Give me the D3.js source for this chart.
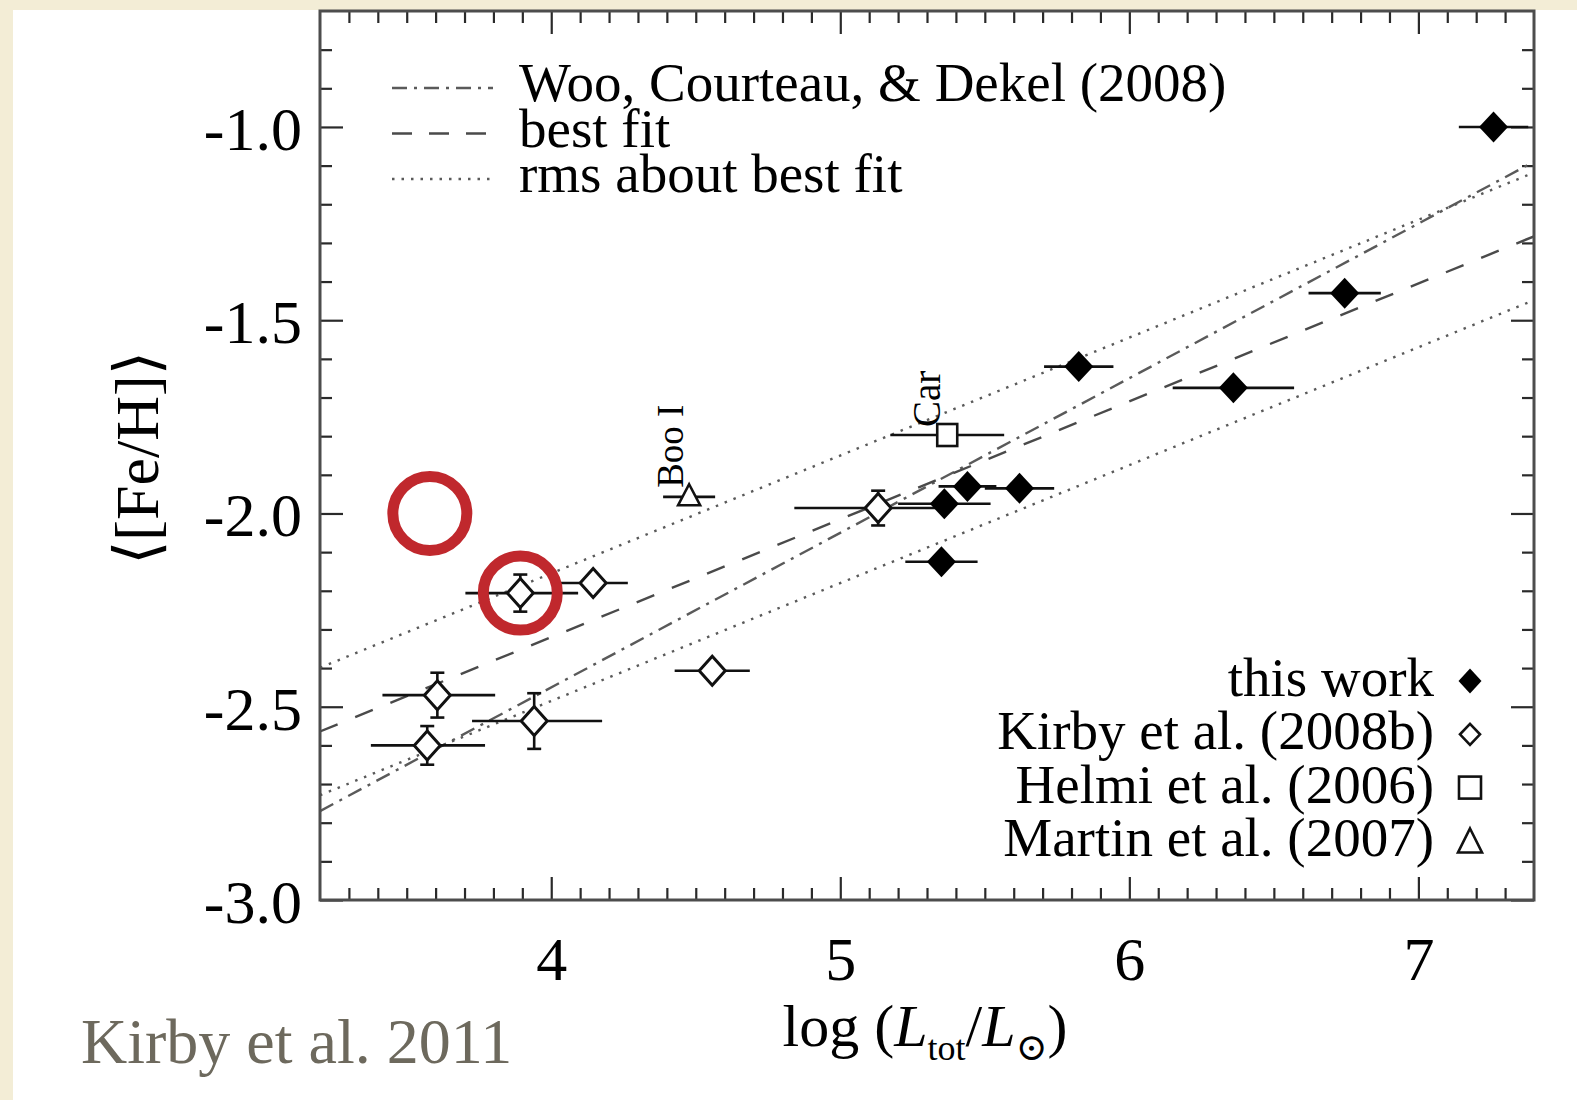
<!DOCTYPE html>
<html><head><meta charset="utf-8">
<script src="https://cdn.jsdelivr.net/npm/d3@7"></script>
<style>
html,body{margin:0;padding:0;background:#f3edd6;}
svg{display:block;}
</style></head><body>
<svg id="chart" width="1577" height="1100"></svg>
<script>
// Mean metallicity vs. total luminosity of dwarf galaxies

// "this work" (filled diamonds)
const thisWorkX   = [7.26, 6.745, 5.825, 6.36, 5.36, 5.44, 5.62, 5.35];
const thisWorkY   = [-1.00, -1.43, -1.62, -1.675, -1.975, -1.93, -1.935, -2.125];
const thisWorkXErr = [0.12, 0.125, 0.12, 0.21, 0.16, 0.10, 0.12, 0.125];

// Kirby et al. (2008b) (open diamonds)
const kirbyX     = [3.893, 4.145, 4.557, 3.606, 3.571, 3.941, 5.131];
const kirbyY     = [-2.206, -2.18, -2.407, -2.47, -2.60, -2.537, -1.986];
const kirbyXErrLo = [0.19, 0.12, 0.13, 0.19, 0.195, 0.215, 0.29];
const kirbyXErrHi = [0.20, 0.12, 0.13, 0.20, 0.20, 0.235, 0.22];
const kirbyYErr  = [0.048, 0, 0, 0.058, 0.05, 0.072, 0.045];

// Helmi et al. (2006) (open square) — Carina
const helmiX = [5.37], helmiY = [-1.797], helmiXErr = [0.197], helmiNames = ["Car"];
// Martin et al. (2007) (open triangle) — Boötes I
const martinX = [4.477], martinY = [-1.957], martinXErr = [0.09], martinNames = ["Boo I"];

// Linear relations: [Fe/H] = intercept + slope * (log L - 5)
const fitIntercept = -2.015, fitSlope = 0.305, fitRms = 0.165;
const wooIntercept = -2.05, wooSlope = 0.40;

// highlighted positions (red rings)
const ringX = [3.58, 3.893];
const ringY = [-2.0, -2.206];

// axes
const xTicks = [4, 5, 6, 7];
const xTickLabels = ["4", "5", "6", "7"];
const yTicks = [-3.0, -2.5, -2.0, -1.5, -1.0];
const yTickLabels = ["-3.0", "-2.5", "-2.0", "-1.5", "-1.0"];

const lineLegend = ["Woo, Courteau, & Dekel (2008)", "best fit", "rms about best fit"];
const symbolLegend = ["this work", "Kirby et al. (2008b)", "Helmi et al. (2006)", "Martin et al. (2007)"];

const SERIF = "'Liberation Serif','Times New Roman','DejaVu Serif',serif";
const svg = d3.select("#chart");

// white sheet
svg.append("rect").attr("x", 13).attr("y", 10).attr("width", 1577 - 13).attr("height", 1100 - 10).attr("fill", "#ffffff");

const L = 320, R = 1534, T = 11, B = 900;
const x = d3.scaleLinear().domain([3.2, 7.4]).range([L, R]);
const y = d3.scaleLinear().domain([-3.0, -0.7]).range([B, T]);

svg.append("defs").append("clipPath").attr("id", "plotClip")
  .append("rect").attr("x", L).attr("y", T).attr("width", R - L).attr("height", B - T);

const minorX = d3.range(3.3, 7.35, 0.1).map(v => +v.toFixed(1)).filter(v => !xTicks.includes(v));
const minorY = d3.range(-2.9, -0.75, 0.1).map(v => +v.toFixed(1)).filter(v => !yTicks.some(t => Math.abs(t - v) < 1e-6));

function styleAxis(g) {
  g.select(".domain").remove();
  g.selectAll(".tick line").attr("stroke", "#2a2a2a").attr("stroke-width", 2.2);
}

// major + minor ticks on all four sides (pointing inward)
svg.append("g").attr("transform", `translate(${L},0)`)
  .call(d3.axisLeft(y).tickValues(yTicks).tickSize(-23).tickPadding(18)
    .tickFormat((d, i) => yTickLabels[i]))
  .call(styleAxis)
  .call(g => g.selectAll("text").attr("font-family", SERIF).attr("font-size", 62)
    .attr("fill", "#000").attr("dy", "0.36em"));
svg.append("g").attr("transform", `translate(${L},0)`)
  .call(d3.axisLeft(y).tickValues(minorY).tickSize(-12).tickFormat(""))
  .call(styleAxis);
svg.append("g").attr("transform", `translate(${R},0)`)
  .call(d3.axisRight(y).tickValues(yTicks).tickSize(-23).tickFormat(""))
  .call(styleAxis);
svg.append("g").attr("transform", `translate(${R},0)`)
  .call(d3.axisRight(y).tickValues(minorY).tickSize(-12).tickFormat(""))
  .call(styleAxis);
svg.append("g").attr("transform", `translate(0,${B})`)
  .call(d3.axisBottom(x).tickValues(xTicks).tickSize(-23).tickPadding(36)
    .tickFormat((d, i) => xTickLabels[i]))
  .call(styleAxis)
  .call(g => g.selectAll("text").attr("font-family", SERIF).attr("font-size", 62)
    .attr("fill", "#000").attr("dy", "0.71em"));
svg.append("g").attr("transform", `translate(0,${B})`)
  .call(d3.axisBottom(x).tickValues(minorX).tickSize(-12).tickFormat(""))
  .call(styleAxis);
svg.append("g").attr("transform", `translate(0,${T})`)
  .call(d3.axisTop(x).tickValues(xTicks).tickSize(-23).tickFormat(""))
  .call(styleAxis);
svg.append("g").attr("transform", `translate(0,${T})`)
  .call(d3.axisTop(x).tickValues(minorX).tickSize(-12).tickFormat(""))
  .call(styleAxis);

// relation lines
const plot = svg.append("g").attr("clip-path", "url(#plotClip)");
const line = d3.line().x(d => x(d[0])).y(d => y(d[1]));
const ends = x.domain();
function relation(a, b, off) { return ends.map(v => [v, a + b * (v - 5) + off]); }

const lineStyles = [
  { dash: "15,7,3,7", color: "#5a5a5a", width: 2.4 },   // Woo et al.
  { dash: "19,19", color: "#4a4a4a", width: 2.4 },      // best fit
  { dash: "2.5,7", color: "#5a5a5a", width: 2.4 }       // rms
];
plot.append("path").attr("d", line(relation(wooIntercept, wooSlope, 0)))
  .attr("fill", "none").attr("stroke", lineStyles[0].color).attr("stroke-width", lineStyles[0].width)
  .attr("stroke-dasharray", lineStyles[0].dash);
plot.append("path").attr("d", line(relation(fitIntercept, fitSlope, 0)))
  .attr("fill", "none").attr("stroke", lineStyles[1].color).attr("stroke-width", lineStyles[1].width)
  .attr("stroke-dasharray", lineStyles[1].dash);
[fitRms, -fitRms].forEach(o => {
  plot.append("path").attr("d", line(relation(fitIntercept, fitSlope, o)))
    .attr("fill", "none").attr("stroke", lineStyles[2].color).attr("stroke-width", lineStyles[2].width)
    .attr("stroke-dasharray", lineStyles[2].dash);
});

// error bars
const eb = plot.append("g").attr("stroke", "#111").attr("stroke-width", 2.6).attr("fill", "none");
function hbar(xv, yv, lo, hi) {
  eb.append("line").attr("x1", x(xv - lo)).attr("x2", x(xv + hi)).attr("y1", y(yv)).attr("y2", y(yv));
}
function vbar(xv, yv, e) {
  if (!e) return;
  const cx = x(xv);
  eb.append("line").attr("x1", cx).attr("x2", cx).attr("y1", y(yv - e)).attr("y2", y(yv + e));
  [yv - e, yv + e].forEach(v => eb.append("line").attr("x1", cx - 7).attr("x2", cx + 7).attr("y1", y(v)).attr("y2", y(v)));
}
thisWorkX.forEach((v, i) => hbar(v, thisWorkY[i], thisWorkXErr[i], thisWorkXErr[i]));
kirbyX.forEach((v, i) => { hbar(v, kirbyY[i], kirbyXErrLo[i], kirbyXErrHi[i]); vbar(v, kirbyY[i], kirbyYErr[i]); });
helmiX.forEach((v, i) => hbar(v, helmiY[i], helmiXErr[i], helmiXErr[i]));
martinX.forEach((v, i) => hbar(v, martinY[i], martinXErr[i], martinXErr[i]));

// marker shapes
function diamond(cx, cy, w, h) {
  const p = d3.path();
  p.moveTo(cx, cy - h); p.lineTo(cx + w, cy); p.lineTo(cx, cy + h); p.lineTo(cx - w, cy); p.closePath();
  return p.toString();
}
function triangle(cx, cy, w, h) {
  const p = d3.path();
  p.moveTo(cx, cy - h * 0.6); p.lineTo(cx + w, cy + h * 0.4); p.lineTo(cx - w, cy + h * 0.4); p.closePath();
  return p.toString();
}
const marks = svg.append("g");
thisWorkX.forEach((v, i) => marks.append("path").attr("d", diamond(x(v), y(thisWorkY[i]), 14.5, 15.5)).attr("fill", "#000"));
kirbyX.forEach((v, i) => marks.append("path").attr("d", diamond(x(v), y(kirbyY[i]), 13, 14.5))
  .attr("fill", "#fff").attr("stroke", "#111").attr("stroke-width", 3));
helmiX.forEach((v, i) => marks.append("rect").attr("x", x(v) - 10).attr("y", y(helmiY[i]) - 11).attr("width", 20).attr("height", 22)
  .attr("fill", "#fff").attr("stroke", "#111").attr("stroke-width", 2.6));
martinX.forEach((v, i) => marks.append("path").attr("d", triangle(x(v), y(martinY[i]), 11, 21))
  .attr("fill", "#fff").attr("stroke", "#111").attr("stroke-width", 2.6));

// galaxy names, rotated
function nameLabel(xv, yv, txt, dx, dy, fs) {
  svg.append("text").attr("transform", `translate(${x(xv) + dx},${y(yv) + dy}) rotate(-90)`)
    .attr("font-family", SERIF).attr("font-size", fs).attr("fill", "#000").text(txt);
}
martinX.forEach((v, i) => nameLabel(v, martinY[i], martinNames[i], -6, -9, 37));
helmiX.forEach((v, i) => nameLabel(v, helmiY[i], helmiNames[i], -7, -8, 39));

// frame
svg.append("rect").attr("x", L).attr("y", T).attr("width", R - L).attr("height", B - T)
  .attr("fill", "none").attr("stroke", "#4d4d4d").attr("stroke-width", 3);

// line legend (top left)
const lg = svg.append("g").attr("font-family", SERIF).attr("font-size", 55).attr("fill", "#000");
lineLegend.forEach((t, i) => {
  const yy = 101 + i * 45.5;
  lg.append("line").attr("x1", 392).attr("x2", 493).attr("y1", yy - 13).attr("y2", yy - 13)
    .attr("stroke", lineStyles[i].color).attr("stroke-width", lineStyles[i].width)
    .attr("stroke-dasharray", i === 1 ? "20,17" : lineStyles[i].dash);
  lg.append("text").attr("x", 519).attr("y", yy).text(t);
});

// symbol legend (bottom right)
const sl = svg.append("g").attr("font-family", SERIF).attr("font-size", 55).attr("fill", "#000");
symbolLegend.forEach((t, i) => {
  const yy = 696 + i * 53.3;
  sl.append("text").attr("x", 1434).attr("y", yy).attr("text-anchor", "end").text(t);
  const mx = 1470, my = yy - 15;
  if (i === 0) sl.append("path").attr("d", diamond(mx, my, 11.5, 12.5)).attr("fill", "#000");
  if (i === 1) sl.append("path").attr("d", diamond(mx, my, 10, 10.5)).attr("fill", "#fff").attr("stroke", "#111").attr("stroke-width", 2.6);
  if (i === 2) sl.append("rect").attr("x", mx - 11).attr("y", my - 11).attr("width", 22).attr("height", 22)
    .attr("fill", "#fff").attr("stroke", "#111").attr("stroke-width", 2.6);
  if (i === 3) sl.append("path").attr("d", triangle(mx, my + 2, 12, 24)).attr("fill", "#fff").attr("stroke", "#111").attr("stroke-width", 2.6);
});

// axis titles
svg.append("text").attr("transform", "translate(137,458) rotate(-90)")
  .attr("text-anchor", "middle").attr("dominant-baseline", "central")
  .attr("font-family", SERIF).attr("font-size", 62).attr("fill", "#000").text("\u27E8[Fe/H]\u27E9");

const xt = svg.append("text").attr("x", 925).attr("y", 1046).attr("text-anchor", "middle")
  .attr("font-family", SERIF).attr("font-size", 60).attr("fill", "#000");
xt.append("tspan").text("log (");
xt.append("tspan").attr("font-style", "italic").text("L");
xt.append("tspan").attr("font-size", 36).attr("dy", 14).text("tot");
xt.append("tspan").attr("dy", -14).text("/");
xt.append("tspan").attr("font-style", "italic").text("L");
xt.append("tspan").attr("font-size", 38).attr("dy", 14).text("\u2299");
xt.append("tspan").attr("dy", -14).text(")");

// red rings
ringX.forEach((v, i) => svg.append("circle").attr("cx", x(v)).attr("cy", y(ringY[i])).attr("r", 37)
  .attr("fill", "none").attr("stroke", "#c0282d").attr("stroke-width", 11));

// credit
svg.append("text").attr("x", 81).attr("y", 1063).attr("font-family", SERIF).attr("font-size", 64)
  .attr("fill", "#6d695d").text("Kirby et al. 2011");
</script>
</body></html>
